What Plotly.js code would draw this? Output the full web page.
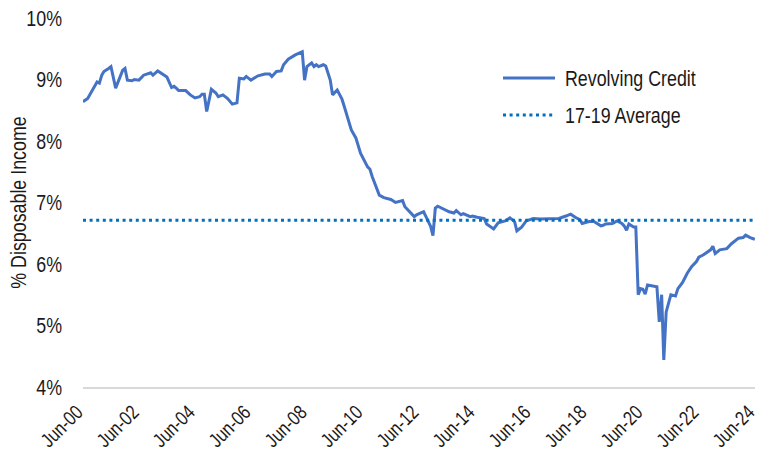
<!DOCTYPE html>
<html>
<head>
<meta charset="utf-8">
<script src="https://cdn.plot.ly/plotly-3.0.1.min.js"></script>
<style>html,body{margin:0;padding:0;background:#fff;}#chart{width:757px;height:457px;}</style>
</head>
<body>
<div id="chart"></div>
<script>
const dates = ['2000-06','2000-08','2000-12','2001-01','2001-02','2001-03','2001-05','2001-06','2001-08','2001-10','2001-11','2001-12',
'2002-01','2002-03','2002-04','2002-06','2002-08','2002-11','2002-12','2003-02','2003-04','2003-06','2003-08','2003-09','2003-10','2003-11',
'2004-02','2004-04','2004-06','2004-08','2004-09','2004-10','2004-11','2005-01','2005-03','2005-04','2005-06','2005-08','2005-10','2005-12',
'2006-01','2006-03','2006-04','2006-06','2006-09','2006-12','2007-02','2007-03','2007-05','2007-07','2007-08','2007-10',
'2008-01','2008-03','2008-04','2008-05','2008-06','2008-08','2008-09','2008-10','2008-11','2009-01','2009-02','2009-04','2009-05','2009-07','2009-09','2009-10','2009-12',
'2010-01','2010-03','2010-05','2010-08','2010-09','2010-10','2010-12','2011-01','2011-03','2011-06','2011-08','2011-11','2011-12',
'2012-02','2012-04','2012-05','2012-08','2012-09','2012-11','2012-12','2013-01','2013-02','2013-05','2013-07','2013-09','2013-10','2013-12',
'2014-01','2014-04','2014-05','2014-07','2014-10','2014-11','2015-02','2015-04','2015-07','2015-09','2015-11','2015-12',
'2016-02','2016-04','2016-07','2016-10','2017-01','2017-03','2017-06','2017-09','2017-11',
'2018-01','2018-03','2018-04','2018-07','2018-09','2018-10','2018-12','2019-01','2019-02','2019-05','2019-07','2019-09','2019-10','2019-11','2019-12',
'2020-02','2020-03','2020-04','2020-05','2020-06','2020-07','2020-08','2020-10','2020-12',
'2021-01','2021-02','2021-03','2021-04','2021-06','2021-08','2021-09','2021-11',
'2022-01','2022-03','2022-05','2022-06','2022-08','2022-11','2022-12','2023-01','2023-03','2023-06','2023-08','2023-09','2023-11',
'2024-01','2024-02','2024-04','2024-06'];
const revolving = [8.64,8.69,8.96,8.94,9.07,9.13,9.18,9.21,8.86,9.05,9.15,9.18,
8.99,8.98,9.00,8.99,9.07,9.11,9.07,9.14,9.09,9.04,8.87,8.89,8.86,8.82,
8.82,8.75,8.70,8.72,8.76,8.76,8.48,8.84,8.78,8.72,8.75,8.69,8.60,8.62,
9.02,9.01,9.05,8.99,9.06,9.09,9.09,9.05,9.13,9.14,9.24,9.33,
9.40,9.44,9.45,8.99,9.21,9.27,9.21,9.24,9.21,9.24,9.22,8.99,8.75,8.83,8.68,8.56,8.30,
8.18,8.05,7.80,7.58,7.54,7.42,7.23,7.12,7.08,7.05,7.00,7.03,6.93,
6.85,6.77,6.80,6.85,6.77,6.61,6.46,6.91,6.94,6.89,6.85,6.83,6.87,6.80,
6.82,6.77,6.78,6.76,6.74,6.65,6.57,6.67,6.70,6.75,6.69,6.54,
6.60,6.70,6.74,6.73,6.73,6.74,6.74,6.78,6.81,
6.76,6.72,6.66,6.69,6.69,6.67,6.62,6.63,6.65,6.66,6.70,6.66,6.62,6.55,6.65,
6.60,6.60,5.50,5.60,5.59,5.51,5.66,5.64,5.63,
5.06,5.50,4.44,5.22,5.50,5.48,5.60,5.70,
5.85,5.96,6.04,6.11,6.15,6.23,6.29,6.17,6.23,6.25,6.33,6.36,6.42,
6.43,6.47,6.43,6.40];
const avgDates = ['2000-06','2024-06'];
const avg1719 = [6.71, 6.71];
const tickDates = ['2000-06-01','2002-06-01','2004-06-01','2006-06-01','2008-06-01','2010-06-01','2012-06-01','2014-06-01','2016-06-01','2018-06-01','2020-06-01','2022-06-01','2024-06-01'];
const tickLabels = ['Jun-00','Jun-02','Jun-04','Jun-06','Jun-08','Jun-10','Jun-12','Jun-14','Jun-16','Jun-18','Jun-20','Jun-22','Jun-24'];
const yTicks = [4,5,6,7,8,9,10];
const yLabels = ['4%','5%','6%','7%','8%','9%','10%'];
const seriesNames = ['Revolving Credit','17-19 Average'];

const FONT = 'Liberation Sans, Arial, sans-serif';
const TXT = '#1a1a1a';
const lineColor = '#4472C4';
const avgColor = '#0070C0';
const SQUEEZE = 0.81;

const traces = [
  {x: dates, y: revolving, type: 'scatter', mode: 'lines', name: seriesNames[0],
   line: {color: lineColor, width: 3}, showlegend: false},
  {x: avgDates, y: avg1719, type: 'scatter', mode: 'lines', name: seriesNames[1],
   line: {color: avgColor, width: 3, dash: '3px,3.6px'}, showlegend: false}
];

const lx0 = (503-83)/672, lx1 = (555-83)/672, ltx = (563-83)/672;
const ly = [(387-78)/369, (387-115)/369];

const layout = {
  width: 757, height: 457,
  margin: {l: 83, r: 2, t: 18, b: 70},
  paper_bgcolor: '#fff', plot_bgcolor: '#fff',
  font: {family: FONT, size: 22, color: TXT},
  xaxis: {type: 'date', range: ['2000-06-01','2024-06-03'], tickmode: 'array',
    tickvals: tickDates, ticktext: tickLabels, tickangle: -45, ticklabeloverflow: 'allow',
    ticklabelshift: -6, ticklabelstandoff: 4,
    showgrid: false, zeroline: false, showline: true, linecolor: '#d9d9d9', linewidth: 1.5,
    ticks: '', tickfont: {family: FONT, size: 20, color: TXT}},
  yaxis: {range: [4, 10], tickmode: 'array', tickvals: yTicks, ticktext: yLabels,
    showgrid: false, zeroline: false, showline: false, ticks: '', ticklabelstandoff: 20,
    tickfont: {family: FONT, size: 22, color: TXT},
    title: {text: '% Disposable Income', font: {family: FONT, size: 22, color: TXT}, standoff: 2}},
  shapes: [
    {type: 'line', xref: 'paper', yref: 'paper', x0: lx0, x1: lx1, y0: ly[0], y1: ly[0], line: {color: lineColor, width: 3}},
    {type: 'line', xref: 'paper', yref: 'paper', x0: lx0, x1: lx1, y0: ly[1], y1: ly[1], line: {color: avgColor, width: 3, dash: '3px,3.6px'}}
  ],
  annotations: [
    {xref: 'paper', yref: 'paper', x: ltx, y: ly[0], xanchor: 'left', yanchor: 'middle', showarrow: false, text: seriesNames[0], font: {family: FONT, size: 22, color: TXT}},
    {xref: 'paper', yref: 'paper', x: ltx, y: ly[1], xanchor: 'left', yanchor: 'middle', showarrow: false, text: seriesNames[1], font: {family: FONT, size: 22, color: TXT}}
  ],
  showlegend: false
};

function squeezeText(gd) {
  gd.querySelectorAll('svg text').forEach(function (el) {
    if (!el.textContent) return;
    const inAnn = !!el.closest('.annotation');
    const before = inAnn ? el.getBBox().x : 0;
    const len = el.getComputedTextLength();
    el.setAttribute('lengthAdjust', 'spacingAndGlyphs');
    el.setAttribute('textLength', (len * SQUEEZE).toFixed(2));
    if (inAnn) {
      const after = el.getBBox().x;
      const x0 = parseFloat(el.getAttribute('x') || '0');
      el.setAttribute('x', (x0 - (after - before)).toFixed(2));
    }
  });
  const yt = gd.querySelector('.g-ytitle');
  if (yt) {
    const prev = yt.getAttribute('transform') || '';
    yt.setAttribute('transform', 'translate(6,0) ' + prev);
  }
}

Plotly.newPlot('chart', traces, layout, {displayModeBar: false, staticPlot: true})
  .then(squeezeText);
</script>
</body>
</html>
